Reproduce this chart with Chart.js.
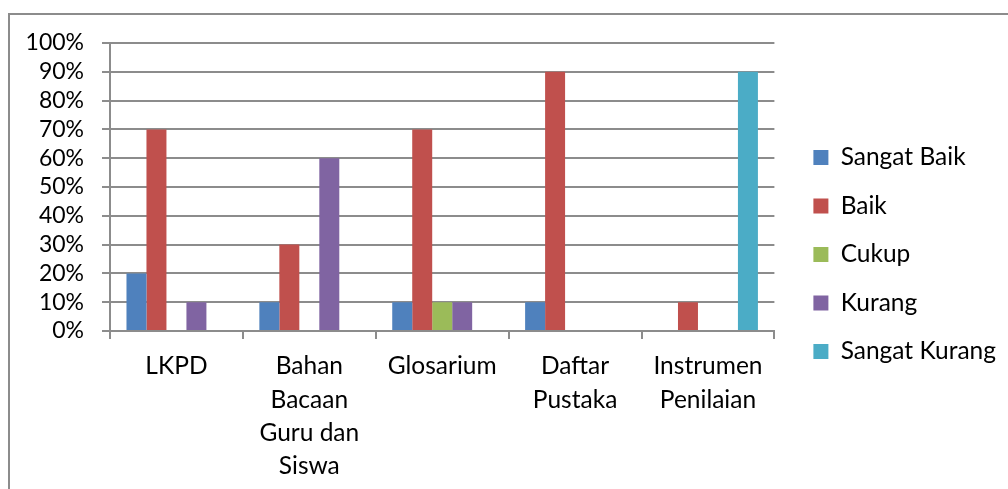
<!DOCTYPE html>
<html>
<head>
<meta charset="utf-8">
<script src="https://cdn.jsdelivr.net/npm/chart.js@4.4.1/dist/chart.umd.min.js"></script>
<style>
  html, body { margin: 0; padding: 0; background: #fff; overflow: hidden; }
  #frame { position: absolute; left: 8px; top: 13px; width: 1100px; height: 600px; border: 2px solid #8c8c8c; }
  #chart { position: absolute; left: 0; top: 0; }
</style>
</head>
<body>
<div id="frame"></div>
<canvas id="chart" width="1008" height="489"></canvas>
<script>
const categories = [
  'LKPD',
  ['Bahan', 'Bacaan', 'Guru dan', 'Siswa'],
  'Glosarium',
  ['Daftar', 'Pustaka'],
  ['Instrumen', 'Penilaian']
];
const sangatBaik = [20, 10, 10, 10, 0];
const baik = [70, 30, 70, 90, 10];
const cukup = [0, 0, 10, 0, 0];
const kurang = [10, 60, 10, 0, 0];
const sangatKurang = [0, 0, 0, 0, 90];
const yTicks = [0, 10, 20, 30, 40, 50, 60, 70, 80, 90, 100];

const gridColor = '#8c8c8c';
const font = { family: 'Lato', size: 24.5 };

// nudge legend right / up without touching the plot area
const legendShift = {
  id: 'legendShift',
  afterLayout(chart) {
    const lg = chart.legend;
    lg.left += 15; lg.right += 15;
    lg.top -= 12; lg.bottom -= 11;
  }
};

const bar = (label, data, color) => ({
  label, data, backgroundColor: color, borderWidth: 0,
  categoryPercentage: 0.752, barPercentage: 1
});

new Chart(document.getElementById('chart'), {
  type: 'bar',
  data: {
    labels: categories,
    datasets: [
      bar('Sangat Baik', sangatBaik, '#4F81BD'),
      bar('Baik', baik, '#C0504D'),
      bar('Cukup', cukup, '#9BBB59'),
      bar('Kurang', kurang, '#8064A2'),
      bar('Sangat Kurang', sangatKurang, '#4BACC6')
    ]
  },
  options: {
    responsive: false,
    animation: false,
    devicePixelRatio: 1,
    layout: { padding: { left: 10, top: 43, bottom: 0, right: 17 } },
    plugins: {
      tooltip: { enabled: false },
      legend: {
        position: 'right',
        labels: {
          color: '#000',
          font: font,
          boxWidth: 15,
          boxHeight: 15,
          padding: 24
        }
      }
    },
    scales: {
      x: {
        afterFit(scale) { scale.height = 158; },
        grid: { drawOnChartArea: false, color: gridColor, lineWidth: 2, tickLength: 8, offset: true },
        border: { color: gridColor, width: 2 },
        ticks: { color: '#000', font: { ...font, lineHeight: 1.35 }, padding: 11, maxRotation: 0, autoSkip: false }
      },
      y: {
        min: 0,
        max: 100,
        afterFit(scale) { scale.width = 100; },
        afterBuildTicks(scale) { scale.ticks = yTicks.map(v => ({ value: v })); },
        grid: { color: gridColor, lineWidth: 2, tickLength: 8 },
        border: { color: gridColor, width: 2 },
        ticks: { color: '#000', font: { family: 'Lato', size: 23 }, padding: 18, autoSkip: false, callback: v => v + '%' }
      }
    }
  },
  plugins: [legendShift]
});
</script>
</body>
</html>
